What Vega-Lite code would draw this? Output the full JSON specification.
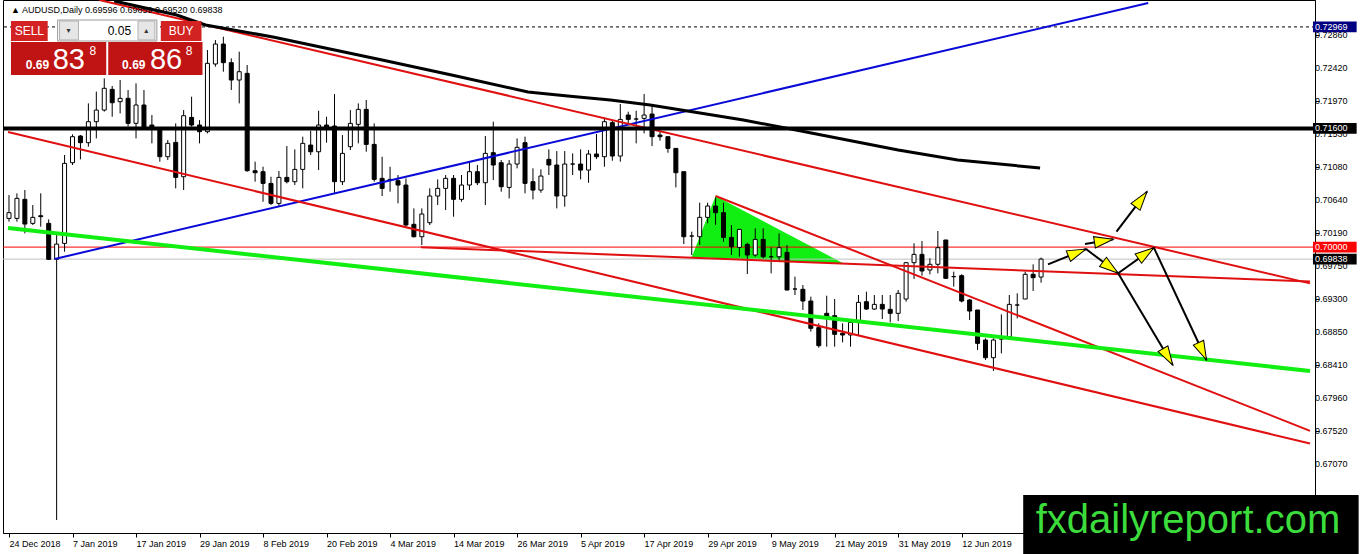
{
  "$schema": "https://vega.github.io/schema/vega-lite/v6.json",
  "width": 1312,
  "height": 533,
  "autosize": {"type": "none"},
  "padding": {"left": 3, "top": 0, "right": 47, "bottom": 21},
  "background": "white",
  "config": {"view": {"stroke": "black", "strokeWidth": 1}, "font": "Liberation Sans"},
  "datasets": {
    "candles": [
      {"i":0,"o":0.70387,"h":0.70702,"l":0.70343,"c":0.70464},
      {"i":1,"o":0.70387,"h":0.70725,"l":0.70343,"c":0.70657},
      {"i":2,"o":0.70644,"h":0.70770,"l":0.70185,"c":0.70311},
      {"i":3,"o":0.70320,"h":0.70567,"l":0.70298,"c":0.70401},
      {"i":4,"o":0.70423,"h":0.70725,"l":0.70275,"c":0.70410},
      {"i":5,"o":0.70320,"h":0.70374,"l":0.69826,"c":0.69835},
      {"i":6,"o":0.69835,"h":0.70203,"l":0.66320,"c":0.70041},
      {"i":7,"o":0.70050,"h":0.71242,"l":0.69938,"c":0.71129},
      {"i":8,"o":0.71138,"h":0.71520,"l":0.71107,"c":0.71489},
      {"i":9,"o":0.71498,"h":0.71511,"l":0.71183,"c":0.71408},
      {"i":10,"o":0.71408,"h":0.71938,"l":0.71354,"c":0.71691},
      {"i":11,"o":0.71691,"h":0.72096,"l":0.71466,"c":0.71848},
      {"i":12,"o":0.71848,"h":0.72275,"l":0.71826,"c":0.72141},
      {"i":13,"o":0.72127,"h":0.72172,"l":0.71758,"c":0.71947},
      {"i":14,"o":0.71961,"h":0.72253,"l":0.71803,"c":0.72006},
      {"i":15,"o":0.72006,"h":0.72118,"l":0.71624,"c":0.71669},
      {"i":16,"o":0.71669,"h":0.72208,"l":0.71466,"c":0.71916},
      {"i":17,"o":0.71916,"h":0.72118,"l":0.71579,"c":0.71601},
      {"i":18,"o":0.71646,"h":0.71781,"l":0.71399,"c":0.71601},
      {"i":19,"o":0.71601,"h":0.71601,"l":0.71152,"c":0.71219},
      {"i":20,"o":0.71219,"h":0.71444,"l":0.71174,"c":0.71399},
      {"i":21,"o":0.71412,"h":0.71669,"l":0.70792,"c":0.70940},
      {"i":22,"o":0.70949,"h":0.71848,"l":0.70770,"c":0.71772},
      {"i":23,"o":0.71749,"h":0.72028,"l":0.71624,"c":0.71646},
      {"i":24,"o":0.71646,"h":0.71713,"l":0.71399,"c":0.71556},
      {"i":25,"o":0.71556,"h":0.72657,"l":0.71534,"c":0.72478},
      {"i":26,"o":0.72469,"h":0.72792,"l":0.72433,"c":0.72738},
      {"i":27,"o":0.72738,"h":0.72837,"l":0.72365,"c":0.72487},
      {"i":28,"o":0.72487,"h":0.72545,"l":0.72118,"c":0.72253},
      {"i":29,"o":0.72253,"h":0.72635,"l":0.71938,"c":0.72365},
      {"i":30,"o":0.72343,"h":0.72455,"l":0.71017,"c":0.71030},
      {"i":31,"o":0.71030,"h":0.71152,"l":0.70882,"c":0.71003},
      {"i":32,"o":0.71017,"h":0.71084,"l":0.70612,"c":0.70859},
      {"i":33,"o":0.70859,"h":0.70949,"l":0.70567,"c":0.70590},
      {"i":34,"o":0.70590,"h":0.71026,"l":0.70545,"c":0.70940},
      {"i":35,"o":0.70940,"h":0.71363,"l":0.70859,"c":0.70882},
      {"i":36,"o":0.70882,"h":0.71318,"l":0.70837,"c":0.71048},
      {"i":37,"o":0.71048,"h":0.71489,"l":0.70792,"c":0.71399},
      {"i":38,"o":0.71376,"h":0.71570,"l":0.71242,"c":0.71286},
      {"i":39,"o":0.71286,"h":0.71839,"l":0.71039,"c":0.71646},
      {"i":40,"o":0.71646,"h":0.71758,"l":0.71408,"c":0.71601},
      {"i":41,"o":0.71633,"h":0.72064,"l":0.70725,"c":0.70882},
      {"i":42,"o":0.70882,"h":0.71511,"l":0.70837,"c":0.71264},
      {"i":43,"o":0.71354,"h":0.71848,"l":0.71309,"c":0.71668},
      {"i":44,"o":0.71655,"h":0.71938,"l":0.71399,"c":0.71857},
      {"i":45,"o":0.71857,"h":0.71983,"l":0.71286,"c":0.71385},
      {"i":46,"o":0.71385,"h":0.71668,"l":0.70882,"c":0.70913},
      {"i":47,"o":0.70927,"h":0.71219,"l":0.70689,"c":0.70792},
      {"i":48,"o":0.70904,"h":0.71084,"l":0.70747,"c":0.70913},
      {"i":49,"o":0.70895,"h":0.70972,"l":0.70590,"c":0.70837},
      {"i":50,"o":0.70837,"h":0.70927,"l":0.70275,"c":0.70298},
      {"i":51,"o":0.70307,"h":0.70522,"l":0.70130,"c":0.70140},
      {"i":52,"o":0.70140,"h":0.70522,"l":0.70028,"c":0.70446},
      {"i":53,"o":0.70329,"h":0.70792,"l":0.70298,"c":0.70689},
      {"i":54,"o":0.70689,"h":0.70913,"l":0.70567,"c":0.70792},
      {"i":55,"o":0.70792,"h":0.70972,"l":0.70500,"c":0.70927},
      {"i":56,"o":0.70927,"h":0.70972,"l":0.70410,"c":0.70644},
      {"i":57,"o":0.70644,"h":0.70972,"l":0.70612,"c":0.70837},
      {"i":58,"o":0.70837,"h":0.71152,"l":0.70769,"c":0.71017},
      {"i":59,"o":0.71017,"h":0.71107,"l":0.70837,"c":0.70868},
      {"i":60,"o":0.70868,"h":0.71498,"l":0.70567,"c":0.71264},
      {"i":61,"o":0.71273,"h":0.71691,"l":0.70904,"c":0.71107},
      {"i":62,"o":0.71138,"h":0.71174,"l":0.70747,"c":0.70814},
      {"i":63,"o":0.70805,"h":0.71174,"l":0.70657,"c":0.71120},
      {"i":64,"o":0.71120,"h":0.71466,"l":0.71062,"c":0.71345},
      {"i":65,"o":0.71408,"h":0.71489,"l":0.70725,"c":0.70859},
      {"i":66,"o":0.70882,"h":0.71062,"l":0.70644,"c":0.70769},
      {"i":67,"o":0.70769,"h":0.71048,"l":0.70733,"c":0.70958},
      {"i":68,"o":0.71183,"h":0.71318,"l":0.70972,"c":0.71107},
      {"i":69,"o":0.71107,"h":0.71295,"l":0.70522,"c":0.70689},
      {"i":70,"o":0.70689,"h":0.71295,"l":0.70545,"c":0.71120},
      {"i":71,"o":0.71120,"h":0.71264,"l":0.70972,"c":0.71120},
      {"i":72,"o":0.71120,"h":0.71318,"l":0.70913,"c":0.71039},
      {"i":73,"o":0.71039,"h":0.71309,"l":0.70868,"c":0.71255},
      {"i":74,"o":0.71255,"h":0.71525,"l":0.71188,"c":0.71219},
      {"i":75,"o":0.71219,"h":0.71749,"l":0.71084,"c":0.71691},
      {"i":76,"o":0.71678,"h":0.71713,"l":0.71165,"c":0.71228},
      {"i":77,"o":0.71228,"h":0.71929,"l":0.71152,"c":0.71722},
      {"i":78,"o":0.71781,"h":0.71826,"l":0.71668,"c":0.71722},
      {"i":79,"o":0.71727,"h":0.71839,"l":0.71399,"c":0.71727},
      {"i":80,"o":0.71736,"h":0.72064,"l":0.71534,"c":0.71781},
      {"i":81,"o":0.71794,"h":0.71916,"l":0.71363,"c":0.71489},
      {"i":82,"o":0.71511,"h":0.71556,"l":0.71435,"c":0.71489},
      {"i":83,"o":0.71489,"h":0.71489,"l":0.71273,"c":0.71331},
      {"i":84,"o":0.71331,"h":0.71331,"l":0.70805,"c":0.71003},
      {"i":85,"o":0.71017,"h":0.71017,"l":0.70041,"c":0.70140},
      {"i":86,"o":0.70149,"h":0.70208,"l":0.69893,"c":0.70149},
      {"i":87,"o":0.70140,"h":0.70599,"l":0.70028,"c":0.70401},
      {"i":88,"o":0.70401,"h":0.70599,"l":0.70320,"c":0.70554},
      {"i":89,"o":0.70554,"h":0.70671,"l":0.70298,"c":0.70464},
      {"i":90,"o":0.70464,"h":0.70599,"l":0.70073,"c":0.70131},
      {"i":91,"o":0.70131,"h":0.70298,"l":0.69893,"c":0.70005},
      {"i":92,"o":0.69996,"h":0.70239,"l":0.69870,"c":0.70239},
      {"i":93,"o":0.70037,"h":0.70059,"l":0.69637,"c":0.69893},
      {"i":94,"o":0.69893,"h":0.70253,"l":0.69870,"c":0.70104},
      {"i":95,"o":0.70104,"h":0.70253,"l":0.69848,"c":0.69870},
      {"i":96,"o":0.69870,"h":0.69996,"l":0.69646,"c":0.69870},
      {"i":97,"o":0.69870,"h":0.70185,"l":0.69803,"c":0.69992},
      {"i":98,"o":0.69929,"h":0.70028,"l":0.69421,"c":0.69421},
      {"i":99,"o":0.69435,"h":0.69602,"l":0.69354,"c":0.69435},
      {"i":100,"o":0.69431,"h":0.69489,"l":0.69152,"c":0.69273},
      {"i":101,"o":0.69273,"h":0.69332,"l":0.68860,"c":0.68905},
      {"i":102,"o":0.68914,"h":0.68972,"l":0.68644,"c":0.68671},
      {"i":103,"o":0.69107,"h":0.69345,"l":0.68657,"c":0.69048},
      {"i":104,"o":0.69075,"h":0.69300,"l":0.68657,"c":0.68824},
      {"i":105,"o":0.68837,"h":0.68972,"l":0.68716,"c":0.68815},
      {"i":106,"o":0.68815,"h":0.68985,"l":0.68657,"c":0.68985},
      {"i":107,"o":0.68985,"h":0.69354,"l":0.68815,"c":0.69255},
      {"i":108,"o":0.69264,"h":0.69399,"l":0.69152,"c":0.69165},
      {"i":109,"o":0.69165,"h":0.69354,"l":0.69152,"c":0.69228},
      {"i":110,"o":0.69228,"h":0.69354,"l":0.69030,"c":0.69165},
      {"i":111,"o":0.69161,"h":0.69354,"l":0.68985,"c":0.69107},
      {"i":112,"o":0.69107,"h":0.69422,"l":0.69004,"c":0.69377},
      {"i":113,"o":0.69300,"h":0.69800,"l":0.69264,"c":0.69790},
      {"i":114,"o":0.69790,"h":0.70051,"l":0.69570,"c":0.69902},
      {"i":115,"o":0.69902,"h":0.70082,"l":0.69615,"c":0.69678},
      {"i":116,"o":0.69691,"h":0.69849,"l":0.69633,"c":0.69768},
      {"i":117,"o":0.69768,"h":0.70217,"l":0.69646,"c":0.69992},
      {"i":118,"o":0.70096,"h":0.70096,"l":0.69570,"c":0.69579},
      {"i":119,"o":0.69602,"h":0.69669,"l":0.69467,"c":0.69602},
      {"i":120,"o":0.69615,"h":0.69633,"l":0.69255,"c":0.69273},
      {"i":121,"o":0.69287,"h":0.69300,"l":0.69017,"c":0.69138},
      {"i":122,"o":0.69152,"h":0.69152,"l":0.68612,"c":0.68702},
      {"i":123,"o":0.68747,"h":0.68770,"l":0.68478,"c":0.68509},
      {"i":124,"o":0.68509,"h":0.68770,"l":0.68329,"c":0.68747},
      {"i":125,"o":0.68761,"h":0.69093,"l":0.68567,"c":0.68761},
      {"i":126,"o":0.68792,"h":0.69354,"l":0.68779,"c":0.69228},
      {"i":127,"o":0.69219,"h":0.69377,"l":0.69039,"c":0.69219},
      {"i":128,"o":0.69300,"h":0.69669,"l":0.69300,"c":0.69633},
      {"i":129,"o":0.69633,"h":0.69768,"l":0.69408,"c":0.69588},
      {"i":130,"o":0.69596,"h":0.69859,"l":0.69520,"c":0.69838}
    ],
    "ma": [
      {"i":13.25,"p":0.73319},{"i":21.125,"p":0.73130},{"i":24.75,"p":0.72995},
      {"i":33.25,"p":0.72833},{"i":47.0,"p":0.72523},{"i":55.75,"p":0.72321},
      {"i":65.375,"p":0.72091},{"i":70.375,"p":0.72037},{"i":75.75,"p":0.71984},
      {"i":80.75,"p":0.71916},{"i":86.25,"p":0.71822},{"i":92.5,"p":0.71714},
      {"i":99.125,"p":0.71579},{"i":112.0,"p":0.71309},{"i":119.5,"p":0.71175},
      {"i":129.875,"p":0.71067}
    ],
    "triangle": [
      {"i":86.0,"t":0.69867,"b":0.69867},
      {"i":89.0,"t":0.70689,"b":0.69852},
      {"i":105.25,"t":0.69772,"b":0.69772}
    ],
    "redLines": [
      {"x":11.375,"y":0.73332,"x2":163.875,"y2":0.69511},
      {"x":-0.125,"y":0.71552,"x2":163.875,"y2":0.67352},
      {"x":89.0,"y":0.70689,"x2":163.875,"y2":0.67523},
      {"x":51.875,"y":0.69998,"x2":163.875,"y2":0.69536}
    ],
    "blueLine": [{"x":5.75,"y":0.69840,"x2":143.5,"y2":0.73292}],
    "greenLine": [{"x":-0.125,"y":0.70258,"x2":163.875,"y2":0.68329}],
    "arrows": [
      {"x":130.875,"y":0.69768,"x2":135.66,"y2":0.69974,"a":68},
      {"x":135.54,"y":0.70042,"x2":139.09,"y2":0.70105,"a":81},
      {"x":135.66,"y":0.69974,"x2":139.71,"y2":0.69647,"a":127},
      {"x":139.71,"y":0.69647,"x2":144.21,"y2":0.69992,"a":55},
      {"x":139.5,"y":0.70208,"x2":143.34,"y2":0.70747,"a":37},
      {"x":139.71,"y":0.69647,"x2":146.59,"y2":0.68410,"a":149},
      {"x":144.21,"y":0.69992,"x2":150.84,"y2":0.68478,"a":155}
    ],
    "priceScale": [
      {"x":164.5,"p":0.7286,"t":"0.72860"},
      {"x":164.5,"p":0.7242,"t":"0.72420"},
      {"x":164.5,"p":0.7197,"t":"0.71970"},
      {"x":164.5,"p":0.7153,"t":"0.71530"},
      {"x":164.5,"p":0.7108,"t":"0.71080"},
      {"x":164.5,"p":0.7064,"t":"0.70640"},
      {"x":164.5,"p":0.7019,"t":"0.70190"},
      {"x":164.5,"p":0.6975,"t":"0.69750"},
      {"x":164.5,"p":0.6930,"t":"0.69300"},
      {"x":164.5,"p":0.6885,"t":"0.68850"},
      {"x":164.5,"p":0.6841,"t":"0.68410"},
      {"x":164.5,"p":0.6796,"t":"0.67960"},
      {"x":164.5,"p":0.6752,"t":"0.67520"},
      {"x":164.5,"p":0.6707,"t":"0.67070"},
      {"x":164.5,"p":0.6662,"t":"0.66620"}
    ],
    "tagNavy": [{"x":164.25,"x2":169.75,"y":0.73042,"y2":0.72896}],
    "tagBlack": [
      {"x":164.25,"x2":169.75,"y":0.71673,"y2":0.71527},
      {"x":164.25,"x2":169.75,"y":0.69911,"y2":0.69765}
    ],
    "tagRed": [{"x":164.25,"x2":169.75,"y":0.70073,"y2":0.69927}],
    "tagText": [
      {"x":164.5,"y":0.72969,"t":"0.72969"},
      {"x":164.5,"y":0.71600,"t":"0.71600"},
      {"x":164.5,"y":0.70000,"t":"0.70000"},
      {"x":164.5,"y":0.69838,"t":"0.69838"}
    ],
    "header": [{"x":0.25,"y":0.73197,"t":"▲  AUDUSD,Daily  0.69596 0.69859 0.69520 0.69838"}],
    "panelSmall": [
      {"x":0.25,"x2":4.875,"y":0.73049,"y2":0.72779},
      {"x":19.125,"x2":24.25,"y":0.73049,"y2":0.72779}
    ],
    "panelBig": [
      {"x":0.25,"x2":12.25,"y":0.72766,"y2":0.72321},
      {"x":12.5,"x2":24.375,"y":0.72766,"y2":0.72321}
    ],
    "panelSpin": [{"x":6.125,"x2":18.625,"y":0.73062,"y2":0.72779}],
    "panelBtn": [
      {"x":6.375,"x2":8.75,"y":0.73049,"y2":0.72793},
      {"x":16.25,"x2":18.375,"y":0.73049,"y2":0.72793}
    ],
    "panelLabel": [
      {"x":2.5625,"y":0.72914,"t":"SELL"},
      {"x":21.6875,"y":0.72914,"t":"BUY"}
    ],
    "panelLot": [{"x":15.375,"y":0.72914,"t":"0.05"}],
    "panelGlyph": [
      {"x":7.5,"y":0.72914,"t":"▾"},
      {"x":17.3,"y":0.72914,"t":"▴"}
    ],
    "priceSmall": [
      {"x":2.125,"y":0.72402,"t":"0.69"},
      {"x":14.25,"y":0.72402,"t":"0.69"}
    ],
    "priceBig": [
      {"x":5.5,"y":0.72402,"t":"83"},
      {"x":17.75,"y":0.72402,"t":"86"}
    ],
    "priceSup": [
      {"x":10.125,"y":0.72590,"t":"8"},
      {"x":22.25,"y":0.72590,"t":"8"}
    ],
    "mark": [{"x":127.75,"x2":170.0,"y":0.66657,"y2":0.65850}],
    "markText": [{"x":148.5,"y":0.66145,"t":"fxdailyreport.com"}]
  },
  "layer": [
    {
      "data": {"name": "triangle"},
      "mark": {"type": "area", "color": "#11ee11", "opacity": 1},
      "encoding": {
        "x": {
          "field": "i", "type": "quantitative",
          "scale": {"domain": [-0.125, 163.875], "nice": false, "zero": false},
          "axis": {
            "orient": "bottom", "title": null, "grid": false,
            "values": [0,8,16,24,32,40,48,56,64,72,80,88,96,104,112,120],
            "labelExpr": "['24 Dec 2018','7 Jan 2019','17 Jan 2019','29 Jan 2019','8 Feb 2019','20 Feb 2019','4 Mar 2019','14 Mar 2019','26 Mar 2019','5 Apr 2019','17 Apr 2019','29 Apr 2019','9 May 2019','21 May 2019','31 May 2019','12 Jun 2019'][round(datum.value/8)]",
            "labelAlign": "left", "labelBaseline": "top", "labelPadding": 2,
            "labelFontSize": 9, "labelColor": "black", "labelFlush": false, "labelOverlap": false,
            "tickSize": 4, "tickColor": "black", "domainColor": "black"
          }
        },
        "y": {
          "field": "t", "type": "quantitative",
          "scale": {"domain": [0.66145, 0.73332], "nice": false, "zero": false},
          "axis": {
            "orient": "right", "title": null, "grid": false, "labels": false,
            "values": [0.7286,0.7242,0.7197,0.7153,0.7108,0.7064,0.7019,0.6975,0.693,0.6885,0.6841,0.6796,0.6752,0.6707,0.6662],
            "tickSize": 4, "tickColor": "black", "domainColor": "black"
          }
        },
        "y2": {"field": "b"}
      }
    },
    {
      "data": {"values": [{"p": 0.69838}]},
      "mark": {"type": "rule", "color": "#c0c0c0", "strokeWidth": 1},
      "encoding": {"y": {"field": "p", "type": "quantitative"}}
    },
    {
      "data": {"values": [{"p": 0.70000}]},
      "mark": {"type": "rule", "color": "#ff0000", "strokeWidth": 1},
      "encoding": {"y": {"field": "p", "type": "quantitative"}}
    },
    {
      "data": {"values": [{"p": 0.72969}]},
      "mark": {"type": "rule", "color": "black", "strokeWidth": 1, "strokeDash": [3, 3]},
      "encoding": {"y": {"field": "p", "type": "quantitative"}}
    },
    {
      "data": {"name": "candles"},
      "mark": {"type": "rule", "color": "black", "strokeWidth": 1},
      "encoding": {
        "x": {"field": "i", "type": "quantitative"},
        "y": {"field": "l", "type": "quantitative"},
        "y2": {"field": "h"}
      }
    },
    {
      "data": {"name": "candles"},
      "mark": {"type": "bar", "width": 4, "stroke": "black", "strokeWidth": 1},
      "encoding": {
        "x": {"field": "i", "type": "quantitative"},
        "y": {"field": "o", "type": "quantitative"},
        "y2": {"field": "c"},
        "fill": {"condition": {"test": "datum.c < datum.o", "value": "black"}, "value": "white"}
      }
    },
    {
      "data": {"name": "blueLine"},
      "mark": {"type": "rule", "color": "#0a0ad8", "strokeWidth": 2},
      "encoding": {
        "x": {"field": "x", "type": "quantitative"},
        "y": {"field": "y", "type": "quantitative"},
        "x2": {"field": "x2"}, "y2": {"field": "y2"}
      }
    },
    {
      "data": {"name": "redLines"},
      "mark": {"type": "rule", "color": "#e01010", "strokeWidth": 2},
      "encoding": {
        "x": {"field": "x", "type": "quantitative"},
        "y": {"field": "y", "type": "quantitative"},
        "x2": {"field": "x2"}, "y2": {"field": "y2"}
      }
    },
    {
      "data": {"name": "greenLine"},
      "mark": {"type": "rule", "color": "#11ee11", "strokeWidth": 4},
      "encoding": {
        "x": {"field": "x", "type": "quantitative"},
        "y": {"field": "y", "type": "quantitative"},
        "x2": {"field": "x2"}, "y2": {"field": "y2"}
      }
    },
    {
      "data": {"name": "ma"},
      "mark": {"type": "line", "color": "black", "strokeWidth": 3},
      "encoding": {
        "x": {"field": "i", "type": "quantitative"},
        "y": {"field": "p", "type": "quantitative"}
      }
    },
    {
      "data": {"values": [{"p": 0.71600}]},
      "mark": {"type": "rule", "color": "black", "strokeWidth": 4},
      "encoding": {"y": {"field": "p", "type": "quantitative"}}
    },
    {
      "data": {"name": "arrows"},
      "mark": {"type": "rule", "color": "black", "strokeWidth": 2},
      "encoding": {
        "x": {"field": "x", "type": "quantitative"},
        "y": {"field": "y", "type": "quantitative"},
        "x2": {"field": "x2"}, "y2": {"field": "y2"}
      }
    },
    {
      "data": {"name": "arrows"},
      "mark": {"type": "point", "shape": "M0,0L0.6,2L-0.6,2Z", "size": 361, "filled": true, "fill": "#ffff00", "stroke": "black", "strokeWidth": 1, "opacity": 1},
      "encoding": {
        "x": {"field": "x2", "type": "quantitative"},
        "y": {"field": "y2", "type": "quantitative"},
        "angle": {"field": "a", "type": "quantitative", "scale": null}
      }
    },
    {
      "data": {"name": "priceScale"},
      "mark": {"type": "text", "color": "black", "fontSize": 9, "align": "left", "baseline": "middle"},
      "encoding": {
        "x": {"field": "x", "type": "quantitative"},
        "y": {"field": "p", "type": "quantitative"},
        "text": {"field": "t"}
      }
    },
    {
      "data": {"name": "tagNavy"},
      "mark": {"type": "rect", "color": "#000080"},
      "encoding": {
        "x": {"field": "x", "type": "quantitative"}, "x2": {"field": "x2"},
        "y": {"field": "y", "type": "quantitative"}, "y2": {"field": "y2"}
      }
    },
    {
      "data": {"name": "tagBlack"},
      "mark": {"type": "rect", "color": "black"},
      "encoding": {
        "x": {"field": "x", "type": "quantitative"}, "x2": {"field": "x2"},
        "y": {"field": "y", "type": "quantitative"}, "y2": {"field": "y2"}
      }
    },
    {
      "data": {"name": "tagRed"},
      "mark": {"type": "rect", "color": "#ff0000"},
      "encoding": {
        "x": {"field": "x", "type": "quantitative"}, "x2": {"field": "x2"},
        "y": {"field": "y", "type": "quantitative"}, "y2": {"field": "y2"}
      }
    },
    {
      "data": {"name": "tagText"},
      "mark": {"type": "text", "color": "white", "fontSize": 9, "align": "left", "baseline": "middle"},
      "encoding": {
        "x": {"field": "x", "type": "quantitative"},
        "y": {"field": "y", "type": "quantitative"},
        "text": {"field": "t"}
      }
    },
    {
      "data": {"name": "header"},
      "mark": {"type": "text", "color": "black", "fontSize": 9, "align": "left", "baseline": "middle"},
      "encoding": {
        "x": {"field": "x", "type": "quantitative"},
        "y": {"field": "y", "type": "quantitative"},
        "text": {"field": "t"}
      }
    },
    {
      "data": {"name": "panelSmall"},
      "mark": {"type": "rect", "color": "#d32222"},
      "encoding": {
        "x": {"field": "x", "type": "quantitative"}, "x2": {"field": "x2"},
        "y": {"field": "y", "type": "quantitative"}, "y2": {"field": "y2"}
      }
    },
    {
      "data": {"name": "panelBig"},
      "mark": {"type": "rect", "color": "#c01414"},
      "encoding": {
        "x": {"field": "x", "type": "quantitative"}, "x2": {"field": "x2"},
        "y": {"field": "y", "type": "quantitative"}, "y2": {"field": "y2"}
      }
    },
    {
      "data": {"name": "panelSpin"},
      "mark": {"type": "rect", "fill": "white", "stroke": "#9a9a9a", "strokeWidth": 1},
      "encoding": {
        "x": {"field": "x", "type": "quantitative"}, "x2": {"field": "x2"},
        "y": {"field": "y", "type": "quantitative"}, "y2": {"field": "y2"}
      }
    },
    {
      "data": {"name": "panelBtn"},
      "mark": {"type": "rect", "fill": "#e6e6e6", "stroke": "#b0b0b0", "strokeWidth": 1},
      "encoding": {
        "x": {"field": "x", "type": "quantitative"}, "x2": {"field": "x2"},
        "y": {"field": "y", "type": "quantitative"}, "y2": {"field": "y2"}
      }
    },
    {
      "data": {"name": "panelLabel"},
      "mark": {"type": "text", "color": "white", "fontSize": 12, "align": "center", "baseline": "middle"},
      "encoding": {
        "x": {"field": "x", "type": "quantitative"},
        "y": {"field": "y", "type": "quantitative"},
        "text": {"field": "t"}
      }
    },
    {
      "data": {"name": "panelLot"},
      "mark": {"type": "text", "color": "black", "fontSize": 12, "align": "right", "baseline": "middle"},
      "encoding": {
        "x": {"field": "x", "type": "quantitative"},
        "y": {"field": "y", "type": "quantitative"},
        "text": {"field": "t"}
      }
    },
    {
      "data": {"name": "panelGlyph"},
      "mark": {"type": "text", "color": "#333333", "fontSize": 8, "align": "center", "baseline": "middle", "font": "DejaVu Sans"},
      "encoding": {
        "x": {"field": "x", "type": "quantitative"},
        "y": {"field": "y", "type": "quantitative"},
        "text": {"field": "t"}
      }
    },
    {
      "data": {"name": "priceSmall"},
      "mark": {"type": "text", "color": "white", "fontSize": 12, "fontWeight": "bold", "align": "left", "baseline": "alphabetic"},
      "encoding": {
        "x": {"field": "x", "type": "quantitative"},
        "y": {"field": "y", "type": "quantitative"},
        "text": {"field": "t"}
      }
    },
    {
      "data": {"name": "priceBig"},
      "mark": {"type": "text", "color": "white", "fontSize": 29, "align": "left", "baseline": "alphabetic"},
      "encoding": {
        "x": {"field": "x", "type": "quantitative"},
        "y": {"field": "y", "type": "quantitative"},
        "text": {"field": "t"}
      }
    },
    {
      "data": {"name": "priceSup"},
      "mark": {"type": "text", "color": "white", "fontSize": 12, "align": "left", "baseline": "alphabetic"},
      "encoding": {
        "x": {"field": "x", "type": "quantitative"},
        "y": {"field": "y", "type": "quantitative"},
        "text": {"field": "t"}
      }
    },
    {
      "data": {"name": "mark"},
      "mark": {"type": "rect", "color": "black"},
      "encoding": {
        "x": {"field": "x", "type": "quantitative"}, "x2": {"field": "x2"},
        "y": {"field": "y", "type": "quantitative"}, "y2": {"field": "y2"}
      }
    },
    {
      "data": {"name": "markText"},
      "mark": {"type": "text", "color": "#3cdc3c", "fontSize": 40, "align": "center", "baseline": "alphabetic"},
      "encoding": {
        "x": {"field": "x", "type": "quantitative"},
        "y": {"field": "y", "type": "quantitative"},
        "text": {"field": "t"}
      }
    }
  ]
}
